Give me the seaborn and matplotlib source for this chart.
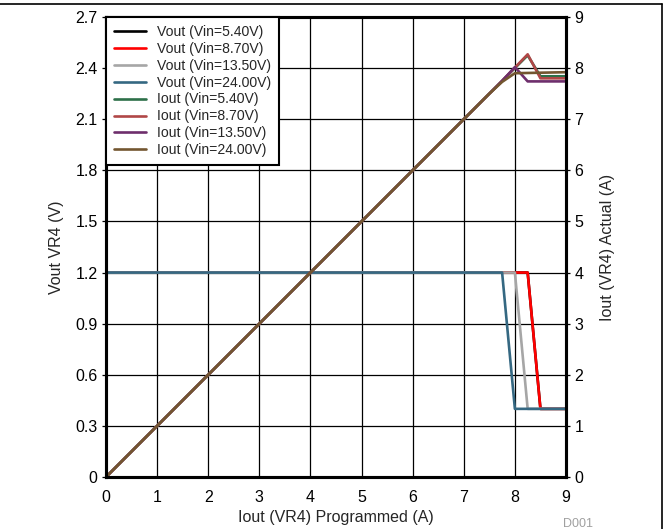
import matplotlib
matplotlib.use("Agg")
import matplotlib.pyplot as plt
import seaborn as sns
from matplotlib.lines import Line2D

# ----------------------------
# Data
# ----------------------------
labels_vout = ["Vout (Vin=5.40V)", "Vout (Vin=8.70V)", "Vout (Vin=13.50V)", "Vout (Vin=24.00V)"]
labels_iout = ["Iout (Vin=5.40V)", "Iout (Vin=8.70V)", "Iout (Vin=13.50V)", "Iout (Vin=24.00V)"]

colors_vout = ["#000000", "#FF0000", "#A6A6A6", "#356882"]
colors_iout = ["#2D7049", "#B04747", "#6E2E6C", "#735630"]

# Vout (left axis, V) vs programmed Iout (A)
vout_x = [
    [0, 1, 2, 3, 4, 5, 6, 7, 8.25, 8.5, 9],
    [0, 1, 2, 3, 4, 5, 6, 7, 8.25, 8.5, 9],
    [0, 1, 2, 3, 4, 5, 6, 7, 8.0, 8.25, 9],
    [0, 1, 2, 3, 4, 5, 6, 7, 7.75, 8.0, 9],
]
vout_y = [
    [1.2, 1.2, 1.2, 1.2, 1.2, 1.2, 1.2, 1.2, 1.2, 0.4, 0.4],
    [1.2, 1.2, 1.2, 1.2, 1.2, 1.2, 1.2, 1.2, 1.2, 0.4, 0.4],
    [1.2, 1.2, 1.2, 1.2, 1.2, 1.2, 1.2, 1.2, 1.2, 0.4, 0.4],
    [1.2, 1.2, 1.2, 1.2, 1.2, 1.2, 1.2, 1.2, 1.2, 0.4, 0.4],
]

# Iout actual (right axis, A) vs programmed Iout (A)
iout_x = [
    [0, 1, 2, 3, 4, 5, 6, 7, 7.75, 8.25, 8.5, 9],
    [0, 1, 2, 3, 4, 5, 6, 7, 7.75, 8.25, 8.5, 9],
    [0, 1, 2, 3, 4, 5, 6, 7, 7.75, 8.0, 8.25, 9],
    [0, 1, 2, 3, 4, 5, 6, 7, 7.5, 7.75, 8.0, 9],
]
iout_y = [
    [0, 1, 2, 3, 4, 5, 6, 7, 7.75, 8.25, 7.84, 7.84],
    [0, 1, 2, 3, 4, 5, 6, 7, 7.75, 8.27, 7.80, 7.80],
    [0, 1, 2, 3, 4, 5, 6, 7, 7.75, 8.02, 7.74, 7.74],
    [0, 1, 2, 3, 4, 5, 6, 7, 7.5, 7.73, 7.9, 7.92],
]

vout_ticks = [0, 0.3, 0.6, 0.9, 1.2, 1.5, 1.8, 2.1, 2.4, 2.7]
vout_ticklabels = ["0", "0.3", "0.6", "0.9", "1.2", "1.5", "1.8", "2.1", "2.4", "2.7"]
iout_ticks = list(range(10))
x_ticks = list(range(10))

# ----------------------------
# Plot
# ----------------------------
sns.set_style("white")
plt.rcParams["font.family"] = ["Liberation Sans", "DejaVu Sans"]

fig = plt.figure(figsize=(6.69, 5.29), dpi=100)
ax = fig.add_axes([106 / 669, 52 / 529, 460 / 669, 460 / 529])
ax2 = ax.twinx()

for x, y, c, lab in zip(vout_x, vout_y, colors_vout, labels_vout):
    sns.lineplot(x=x, y=y, ax=ax, color=c, linewidth=1.9, label=lab, legend=False)

for x, y, c, lab in zip(iout_x, iout_y, colors_iout, labels_iout):
    sns.lineplot(x=x, y=y, ax=ax2, color=c, linewidth=1.9, label=lab, legend=False)

ax.set_xlim(0, 9)
ax.set_ylim(0, 2.7)
ax2.set_ylim(0, 9)
ax.set_xticks(x_ticks)
ax.set_yticks(vout_ticks)
ax.set_yticklabels(vout_ticklabels)
ax2.set_yticks(iout_ticks)

ax.grid(True, color="black", linewidth=0.9)
ax.set_axisbelow(True)
ax2.grid(False)

for a in (ax, ax2):
    for s in a.spines.values():
        s.set_linewidth(2.2)
        s.set_color("black")
    a.tick_params(labelsize=11.5, length=3, width=0.9, colors="black", pad=3)

ax.tick_params(axis="x", pad=6)

ax.set_xlabel("Iout (VR4) Programmed (A)", fontsize=11.5, labelpad=4)
ax.set_ylabel("Vout VR4 (V)", fontsize=11.5, labelpad=8)
ax2.set_ylabel("Iout (VR4) Actual (A)", fontsize=11.5, labelpad=12)

handles = [l for l in ax.get_lines() if not l.get_label().startswith("_")] + \
          [l for l in ax2.get_lines() if not l.get_label().startswith("_")]
leg = ax2.legend(handles=handles, labels=[h.get_label() for h in handles],
                 loc="upper left", bbox_to_anchor=(0, 1), borderaxespad=0,
                 fontsize=10.1, frameon=True, fancybox=False, framealpha=1,
                 edgecolor="black", handlelength=2.3, labelspacing=0.21,
                 borderpad=0.55, handletextpad=0.8)
leg.get_frame().set_linewidth(1.5)

fig.text(0.842, 0.004, "D001", color="#A0A0A0", fontsize=9)
fig.add_artist(Line2D([0, 0.9895], [0.9924, 0.9924], color="black", linewidth=1.2,
                      transform=fig.transFigure))
fig.add_artist(Line2D([0.9895, 0.9895], [0, 0.9924], color="black", linewidth=1.2,
                      transform=fig.transFigure))

fig.savefig("out.png", dpi=100)
